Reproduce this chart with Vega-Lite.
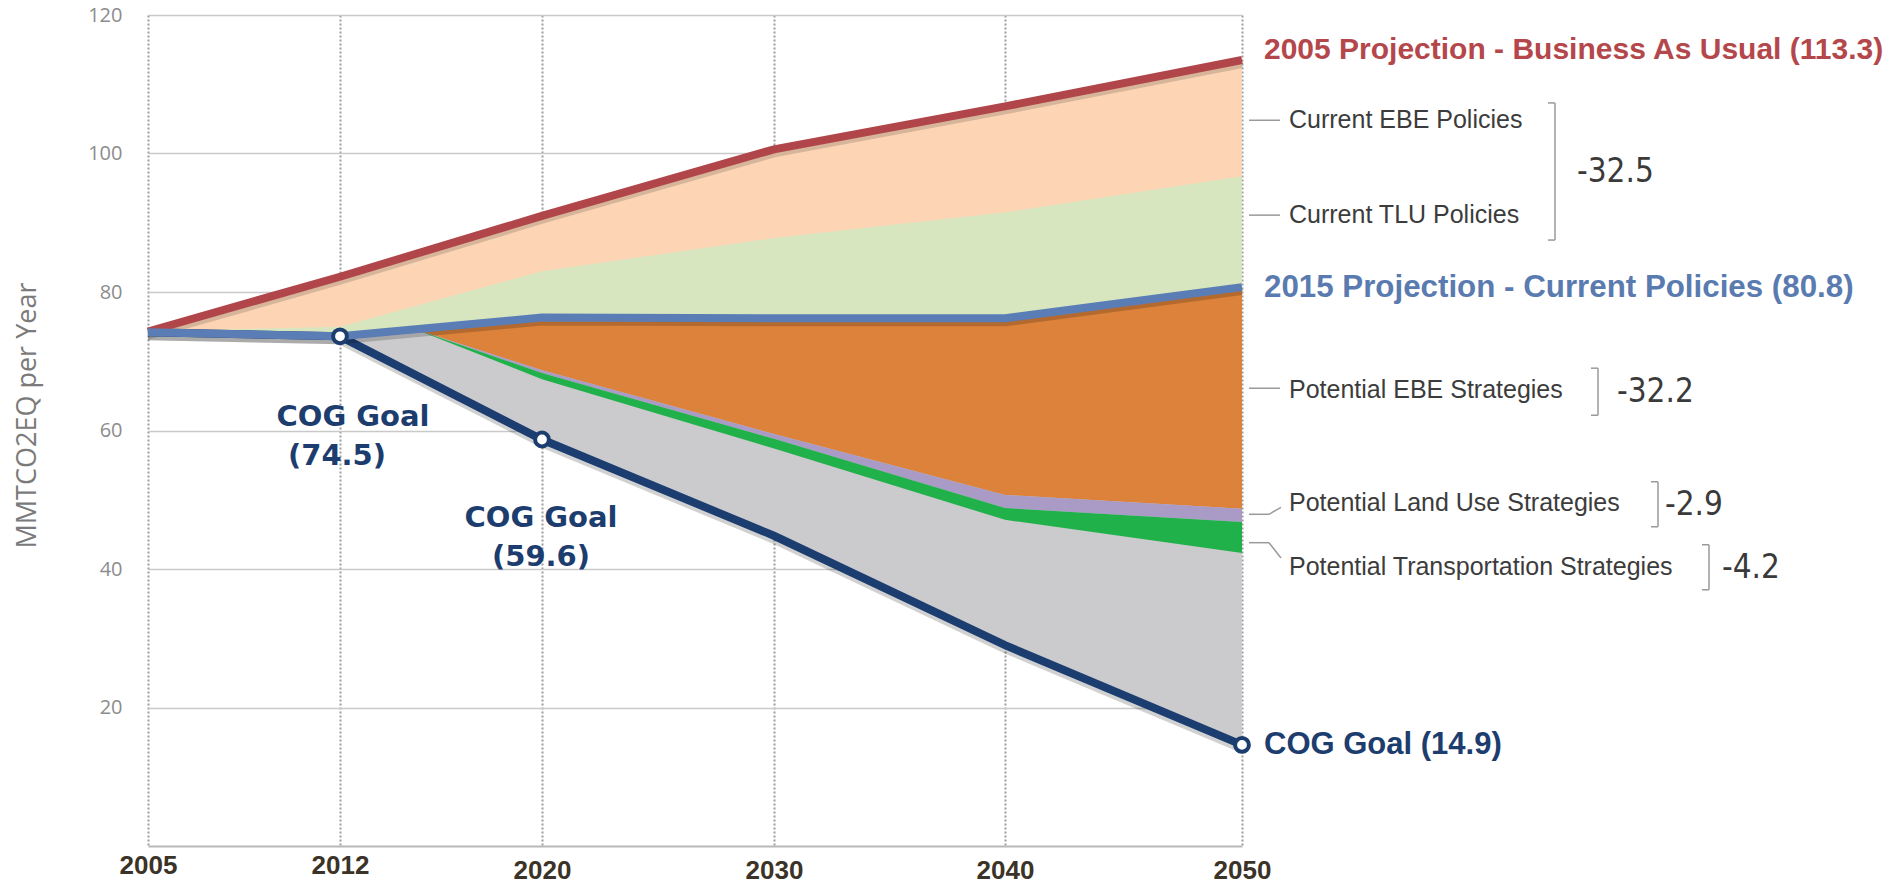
{
  "$schema": "https://vega.github.io/schema/vega-lite/v6.json",
  "width": 1094,
  "height": 831,
  "autosize": {"type": "none"},
  "padding": {"left": 148, "top": 15, "right": 653, "bottom": 37},
  "background": "white",
  "config": {"view": {"stroke": null}},
  "datasets": {
    "main": [
      {"year": 2005, "bau": 74.3, "tlu": 74.3, "cur": 74.2, "goal": 74.2},
      {"year": 2012, "bau": 82.2, "tlu": 75.0, "cur": 73.6, "goal": 73.6},
      {"year": 2020, "bau": 91.0, "tlu": 83.0, "cur": 76.3, "goal": 58.7},
      {"year": 2030, "bau": 100.6, "tlu": 87.8, "cur": 76.2, "goal": 44.8},
      {"year": 2040, "bau": 106.8, "tlu": 91.5, "cur": 76.2, "goal": 29.0},
      {"year": 2050, "bau": 113.5, "tlu": 96.7, "cur": 80.7, "goal": 14.6}
    ],
    "wedge": [
      {"year": 2015, "cur": 74.6, "ebe": 74.6, "lu": 74.6, "tr": 74.6},
      {"year": 2020, "cur": 76.3, "ebe": 68.7, "lu": 68.3, "tr": 67.4},
      {"year": 2030, "cur": 76.2, "ebe": 59.5, "lu": 58.8, "tr": 57.4},
      {"year": 2040, "cur": 76.2, "ebe": 50.7, "lu": 48.8, "tr": 47.1},
      {"year": 2050, "cur": 80.7, "ebe": 48.7, "lu": 46.8, "tr": 42.3}
    ],
    "endLabels": [
      {"series": "bau", "value": 113.5, "t": "2005 Projection - Business As Usual (113.3)"},
      {"series": "cur", "value": 80.7, "t": "2015 Projection - Current Policies (80.8)"},
      {"series": "goal", "value": 14.6, "t": "COG Goal (14.9)"}
    ],
    "notes": [
      {"k": "cebe", "t": "Current EBE Policies", "v": 104.8},
      {"k": "ctlu", "t": "Current TLU Policies", "v": 91.1},
      {"k": "pebe", "t": "Potential EBE Strategies", "v": 65.8},
      {"k": "plu", "t": "Potential Land Use Strategies", "v": 49.5},
      {"k": "ptr", "t": "Potential Transportation Strategies", "v": 40.3}
    ],
    "leaders": [
      {"k": "cebe", "v": 104.8},
      {"k": "ctlu", "v": 91.1},
      {"k": "pebe", "v": 66.1}
    ],
    "bentLeaders": [
      {"k": "plu", "a": 47.9, "b": 48.9},
      {"k": "ptr", "a": 43.8, "b": 41.6}
    ],
    "brackets": [
      {"k": "current", "top": 107.3, "bot": 87.5, "n": "-32.5", "nv": 97.3},
      {"k": "pebe", "top": 69.0, "bot": 62.2, "n": "-32.2", "nv": 65.6},
      {"k": "plu", "top": 52.6, "bot": 46.1, "n": "-2.9", "nv": 49.2},
      {"k": "ptr", "top": 43.5, "bot": 37.0, "n": "-4.2", "nv": 40.1}
    ],
    "goalLabels": [
      {"year": 2012, "goal": 73.6, "l1": "COG Goal", "l2": "(74.5)"},
      {"year": 2020, "goal": 58.7, "l1": "COG Goal", "l2": "(59.6)"}
    ]
  },
  "layer": [
    {
      "data": {"name": "main"},
      "mark": {"type": "area", "color": "#fdd5b5", "opacity": 1},
      "encoding": {
        "x": {
          "field": "year", "type": "quantitative",
          "scale": {"domain": [2005, 2012, 2020, 2030, 2040, 2050], "range": [0, 192, 394, 626, 857, 1094], "nice": false, "zero": false},
          "axis": {
            "values": [2005, 2012, 2020, 2030, 2040, 2050], "format": "d", "title": null,
            "ticks": false, "labelFont": "Liberation Sans", "labelFontWeight": "bold", "labelFontSize": 26,
            "labelColor": "#3b3328", "labelBaseline": "top",
            "labelPadding": {"condition": {"test": "datum.value >= 2020", "value": 11}, "value": 6},
            "labelFlush": false, "labelOverlap": false,
            "grid": true, "gridColor": "#9c9c9c", "gridDash": [2, 2], "gridWidth": 2,
            "domain": true, "domainColor": "#b8b8b8", "domainWidth": 2
          }
        },
        "y": {
          "field": "bau", "type": "quantitative",
          "scale": {"domain": [0, 120], "nice": false, "zero": false},
          "axis": {
            "values": [20, 40, 60, 80, 100, 120], "title": "MMTCO2EQ per Year",
            "ticks": false, "domain": false, "grid": true, "gridColor": "#c9c9c9", "gridWidth": 1.5, "gridDash": [],
            "labelFont": "Open Sans", "labelFontSize": 20, "labelColor": "#8c8c8c", "labelPadding": 26,
            "titleFont": "Open Sans", "titleFontSize": 27, "titleFontWeight": "normal", "titleColor": "#7a7a7a",
            "titleX": -121, "titleY": 400, "titleAngle": -90, "titleAlign": "center", "titleBaseline": "middle"
          }
        },
        "y2": {"field": "cur"}
      }
    },
    {
      "data": {"name": "main"},
      "mark": {"type": "area", "color": "#d8e6c0", "opacity": 1},
      "encoding": {
        "x": {"field": "year", "type": "quantitative"},
        "y": {"field": "tlu", "type": "quantitative"},
        "y2": {"field": "cur"}
      }
    },
    {
      "data": {"name": "main"},
      "transform": [{"filter": "datum.year >= 2012"}],
      "mark": {"type": "area", "color": "#cbcbcd", "opacity": 1},
      "encoding": {
        "x": {"field": "year", "type": "quantitative"},
        "y": {"field": "cur", "type": "quantitative"},
        "y2": {"field": "goal"}
      }
    },
    {
      "data": {"name": "wedge"},
      "mark": {"type": "area", "color": "#dc823a", "opacity": 1},
      "encoding": {
        "x": {"field": "year", "type": "quantitative"},
        "y": {"field": "cur", "type": "quantitative"},
        "y2": {"field": "ebe"}
      }
    },
    {
      "data": {"name": "wedge"},
      "mark": {"type": "area", "color": "#a99ac6", "opacity": 1},
      "encoding": {
        "x": {"field": "year", "type": "quantitative"},
        "y": {"field": "ebe", "type": "quantitative"},
        "y2": {"field": "lu"}
      }
    },
    {
      "data": {"name": "wedge"},
      "mark": {"type": "area", "color": "#21b14b", "opacity": 1},
      "encoding": {
        "x": {"field": "year", "type": "quantitative"},
        "y": {"field": "lu", "type": "quantitative"},
        "y2": {"field": "tr"}
      }
    },
    {
      "data": {"name": "main"},
      "mark": {"type": "line", "color": "#000000", "opacity": 0.18, "strokeWidth": 10, "yOffset": 3},
      "encoding": {
        "x": {"field": "year", "type": "quantitative"},
        "y": {"field": "goal", "type": "quantitative"}
      }
    },
    {
      "data": {"name": "main"},
      "mark": {"type": "line", "color": "#1b3d6f", "strokeWidth": 8},
      "encoding": {
        "x": {"field": "year", "type": "quantitative"},
        "y": {"field": "goal", "type": "quantitative"}
      }
    },
    {
      "data": {"name": "main"},
      "mark": {"type": "line", "color": "#000000", "opacity": 0.15, "strokeWidth": 10, "yOffset": 3},
      "encoding": {
        "x": {"field": "year", "type": "quantitative"},
        "y": {"field": "bau", "type": "quantitative"}
      }
    },
    {
      "data": {"name": "main"},
      "mark": {"type": "line", "color": "#b1464a", "strokeWidth": 8},
      "encoding": {
        "x": {"field": "year", "type": "quantitative"},
        "y": {"field": "bau", "type": "quantitative"}
      }
    },
    {
      "data": {"name": "main"},
      "mark": {"type": "line", "color": "#000000", "opacity": 0.18, "strokeWidth": 10, "yOffset": 3},
      "encoding": {
        "x": {"field": "year", "type": "quantitative"},
        "y": {"field": "cur", "type": "quantitative"}
      }
    },
    {
      "data": {"name": "main"},
      "mark": {"type": "line", "color": "#5a7db5", "strokeWidth": 8},
      "encoding": {
        "x": {"field": "year", "type": "quantitative"},
        "y": {"field": "cur", "type": "quantitative"}
      }
    },
    {
      "data": {"name": "main"},
      "transform": [{"filter": "datum.year == 2012 || datum.year == 2020 || datum.year == 2050"}],
      "mark": {"type": "point", "filled": true, "fill": "white", "stroke": "#1b3d6f", "strokeWidth": 4, "size": 190, "opacity": 1},
      "encoding": {
        "x": {"field": "year", "type": "quantitative"},
        "y": {"field": "goal", "type": "quantitative"}
      }
    },
    {
      "data": {"name": "goalLabels"},
      "transform": [{"filter": "datum.year == 2012"}],
      "mark": {"type": "text", "align": "center", "baseline": "middle", "dx": 13, "dy": 81, "font": "DejaVu Sans", "fontWeight": "bold", "fontSize": 29, "color": "#1c3d6e"},
      "encoding": {
        "x": {"field": "year", "type": "quantitative"},
        "y": {"field": "goal", "type": "quantitative"},
        "text": {"field": "l1"}
      }
    },
    {
      "data": {"name": "goalLabels"},
      "transform": [{"filter": "datum.year == 2012"}],
      "mark": {"type": "text", "align": "center", "baseline": "middle", "dx": -3, "dy": 120, "font": "DejaVu Sans", "fontWeight": "bold", "fontSize": 29, "color": "#1c3d6e"},
      "encoding": {
        "x": {"field": "year", "type": "quantitative"},
        "y": {"field": "goal", "type": "quantitative"},
        "text": {"field": "l2"}
      }
    },
    {
      "data": {"name": "goalLabels"},
      "transform": [{"filter": "datum.year == 2020"}],
      "mark": {"type": "text", "align": "center", "baseline": "middle", "dx": -1, "dy": 78, "font": "DejaVu Sans", "fontWeight": "bold", "fontSize": 29, "color": "#1c3d6e"},
      "encoding": {
        "x": {"field": "year", "type": "quantitative"},
        "y": {"field": "goal", "type": "quantitative"},
        "text": {"field": "l1"}
      }
    },
    {
      "data": {"name": "goalLabels"},
      "transform": [{"filter": "datum.year == 2020"}],
      "mark": {"type": "text", "align": "center", "baseline": "middle", "dx": -1, "dy": 117, "font": "DejaVu Sans", "fontWeight": "bold", "fontSize": 29, "color": "#1c3d6e"},
      "encoding": {
        "x": {"field": "year", "type": "quantitative"},
        "y": {"field": "goal", "type": "quantitative"},
        "text": {"field": "l2"}
      }
    },
    {
      "data": {"name": "endLabels"},
      "transform": [{"filter": "datum.series == 'bau'"}],
      "mark": {"type": "text", "align": "left", "baseline": "middle", "dx": 22, "dy": -10, "font": "Liberation Sans", "fontWeight": "bold", "fontSize": 30, "color": "#b4474b"},
      "encoding": {
        "x": {"datum": 2050, "type": "quantitative"},
        "y": {"field": "value", "type": "quantitative"},
        "text": {"field": "t"}
      }
    },
    {
      "data": {"name": "endLabels"},
      "transform": [{"filter": "datum.series == 'cur'"}],
      "mark": {"type": "text", "align": "left", "baseline": "middle", "dx": 22, "dy": 1, "font": "Liberation Sans", "fontWeight": "bold", "fontSize": 31.3, "color": "#5a7bb0"},
      "encoding": {
        "x": {"datum": 2050, "type": "quantitative"},
        "y": {"field": "value", "type": "quantitative"},
        "text": {"field": "t"}
      }
    },
    {
      "data": {"name": "endLabels"},
      "transform": [{"filter": "datum.series == 'goal'"}],
      "mark": {"type": "text", "align": "left", "baseline": "middle", "dx": 22, "dy": 0, "font": "Liberation Sans", "fontWeight": "bold", "fontSize": 31, "color": "#1c3d6e"},
      "encoding": {
        "x": {"datum": 2050, "type": "quantitative"},
        "y": {"field": "value", "type": "quantitative"},
        "text": {"field": "t"}
      }
    },
    {
      "data": {"name": "notes"},
      "mark": {"type": "text", "align": "left", "baseline": "middle", "dx": 47, "font": "Liberation Sans", "fontSize": 25, "color": "#3c3c3c"},
      "encoding": {
        "x": {"datum": 2050, "type": "quantitative"},
        "y": {"field": "v", "type": "quantitative"},
        "text": {"field": "t"}
      }
    },
    {
      "data": {"name": "leaders"},
      "mark": {"type": "rule", "xOffset": 7, "x2Offset": 38, "color": "#9a9a9a", "strokeWidth": 1.5},
      "encoding": {
        "x": {"datum": 2050, "type": "quantitative"},
        "x2": {"datum": 2050},
        "y": {"field": "v", "type": "quantitative"}
      }
    },
    {
      "data": {"name": "bentLeaders"},
      "mark": {"type": "rule", "xOffset": 7, "x2Offset": 27, "color": "#9a9a9a", "strokeWidth": 1.5},
      "encoding": {
        "x": {"datum": 2050, "type": "quantitative"},
        "x2": {"datum": 2050},
        "y": {"field": "a", "type": "quantitative"}
      }
    },
    {
      "data": {"name": "bentLeaders"},
      "mark": {"type": "rule", "xOffset": 27, "x2Offset": 39, "color": "#9a9a9a", "strokeWidth": 1.5},
      "encoding": {
        "x": {"datum": 2050, "type": "quantitative"},
        "x2": {"datum": 2050},
        "y": {"field": "a", "type": "quantitative"},
        "y2": {"field": "b"}
      }
    },
    {
      "data": {"name": "brackets"},
      "transform": [{"filter": "datum.k == 'current'"}],
      "layer": [
        {"mark": {"type": "rule", "xOffset": 313, "color": "#9a9a9a", "strokeWidth": 1.5},
         "encoding": {"x": {"datum": 2050, "type": "quantitative"}, "y": {"field": "top", "type": "quantitative"}, "y2": {"field": "bot"}}},
        {"transform": [{"fold": ["top", "bot"], "as": ["end", "val"]}],
         "mark": {"type": "rule", "xOffset": 306, "x2Offset": 313, "color": "#9a9a9a", "strokeWidth": 1.5},
         "encoding": {"x": {"datum": 2050, "type": "quantitative"}, "x2": {"datum": 2050}, "y": {"field": "val", "type": "quantitative"}}},
        {"mark": {"type": "text", "align": "left", "baseline": "middle", "dx": 335, "font": "Liberation Sans Narrow, Arial Narrow, DejaVu Sans Condensed, sans-serif", "fontSize": 33, "color": "#3a3a3a"},
         "encoding": {"x": {"datum": 2050, "type": "quantitative"}, "y": {"field": "nv", "type": "quantitative"}, "text": {"field": "n"}}}
      ]
    },
    {
      "data": {"name": "brackets"},
      "transform": [{"filter": "datum.k == 'pebe'"}],
      "layer": [
        {"mark": {"type": "rule", "xOffset": 356, "color": "#9a9a9a", "strokeWidth": 1.5},
         "encoding": {"x": {"datum": 2050, "type": "quantitative"}, "y": {"field": "top", "type": "quantitative"}, "y2": {"field": "bot"}}},
        {"transform": [{"fold": ["top", "bot"], "as": ["end", "val"]}],
         "mark": {"type": "rule", "xOffset": 349, "x2Offset": 356, "color": "#9a9a9a", "strokeWidth": 1.5},
         "encoding": {"x": {"datum": 2050, "type": "quantitative"}, "x2": {"datum": 2050}, "y": {"field": "val", "type": "quantitative"}}},
        {"mark": {"type": "text", "align": "left", "baseline": "middle", "dx": 375, "font": "Liberation Sans Narrow, Arial Narrow, DejaVu Sans Condensed, sans-serif", "fontSize": 33, "color": "#3a3a3a"},
         "encoding": {"x": {"datum": 2050, "type": "quantitative"}, "y": {"field": "nv", "type": "quantitative"}, "text": {"field": "n"}}}
      ]
    },
    {
      "data": {"name": "brackets"},
      "transform": [{"filter": "datum.k == 'plu'"}],
      "layer": [
        {"mark": {"type": "rule", "xOffset": 416, "color": "#9a9a9a", "strokeWidth": 1.5},
         "encoding": {"x": {"datum": 2050, "type": "quantitative"}, "y": {"field": "top", "type": "quantitative"}, "y2": {"field": "bot"}}},
        {"transform": [{"fold": ["top", "bot"], "as": ["end", "val"]}],
         "mark": {"type": "rule", "xOffset": 409, "x2Offset": 416, "color": "#9a9a9a", "strokeWidth": 1.5},
         "encoding": {"x": {"datum": 2050, "type": "quantitative"}, "x2": {"datum": 2050}, "y": {"field": "val", "type": "quantitative"}}},
        {"mark": {"type": "text", "align": "left", "baseline": "middle", "dx": 423, "font": "Liberation Sans Narrow, Arial Narrow, DejaVu Sans Condensed, sans-serif", "fontSize": 33, "color": "#3a3a3a"},
         "encoding": {"x": {"datum": 2050, "type": "quantitative"}, "y": {"field": "nv", "type": "quantitative"}, "text": {"field": "n"}}}
      ]
    },
    {
      "data": {"name": "brackets"},
      "transform": [{"filter": "datum.k == 'ptr'"}],
      "layer": [
        {"mark": {"type": "rule", "xOffset": 467, "color": "#9a9a9a", "strokeWidth": 1.5},
         "encoding": {"x": {"datum": 2050, "type": "quantitative"}, "y": {"field": "top", "type": "quantitative"}, "y2": {"field": "bot"}}},
        {"transform": [{"fold": ["top", "bot"], "as": ["end", "val"]}],
         "mark": {"type": "rule", "xOffset": 460, "x2Offset": 467, "color": "#9a9a9a", "strokeWidth": 1.5},
         "encoding": {"x": {"datum": 2050, "type": "quantitative"}, "x2": {"datum": 2050}, "y": {"field": "val", "type": "quantitative"}}},
        {"mark": {"type": "text", "align": "left", "baseline": "middle", "dx": 480, "font": "Liberation Sans Narrow, Arial Narrow, DejaVu Sans Condensed, sans-serif", "fontSize": 33, "color": "#3a3a3a"},
         "encoding": {"x": {"datum": 2050, "type": "quantitative"}, "y": {"field": "nv", "type": "quantitative"}, "text": {"field": "n"}}}
      ]
    }
  ]
}
